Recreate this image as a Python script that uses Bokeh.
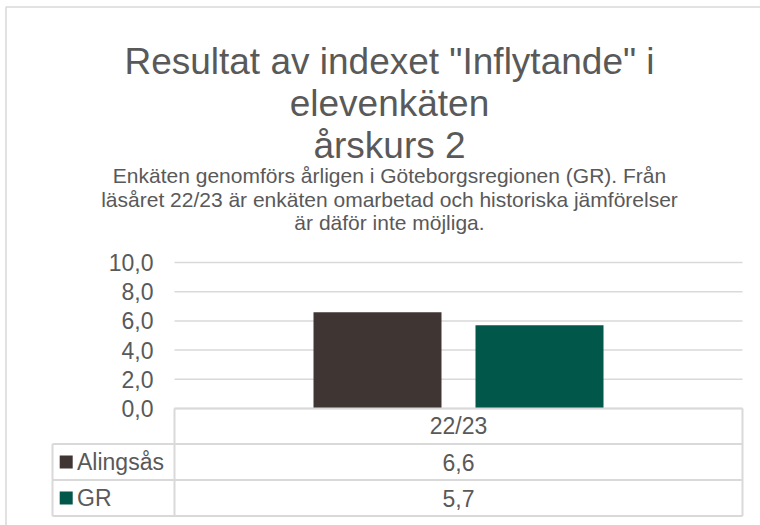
from bokeh.plotting import figure
from bokeh.models import Range1d, LinearAxis, FixedTicker, CustomJSTickFormatter
from bokeh.core.properties import value
from bokeh.embed import file_html
from bokeh.resources import INLINE

# ---------------- data ----------------
title_lines = ['Resultat av indexet "Inflytande" i', "elevenkäten", "årskurs 2"]
subtitle_lines = [
    "Enkäten genomförs årligen i Göteborgsregionen (GR). Från",
    "läsåret 22/23 är enkäten omarbetad och historiska jämförelser",
    "är däför inte möjliga.",
]
categories = ["22/23"]
series = ["Alingsås", "GR"]
alingsas = [6.6]
gr = [5.7]
y_ticks = [0, 2, 4, 6, 8, 10]
series_colors = ["#3F3633", "#02574B"]

# ---------------- style / layout ----------------
TEXT = "#595959"
LINE = "#D9D9D9"
FONT = value("Liberation Sans")

W, H = 760, 525          # canvas size
M = 0                    # page offset of the canvas
CAT_LEFT = 174           # page px where the category area starts
CAT_W = 568              # page px width of one category
ZERO_Y = 408             # page px of value 0
PPU = 14.6               # px per value unit
LEG_LEFT = 52            # left edge of table legend column
HEAD_H = 35.5
ROW_H = 36.0
BAR_W_PX = 128
BAR_GAP_PX = 34
CENTER_X = 389


def u(px):
    return (px - CAT_LEFT) / CAT_W


def v(py):
    return (ZERO_Y - py) / PPU


p = figure(width=W, height=H, output_backend="svg", toolbar_location=None,
           x_range=Range1d(u(M), u(M + W)), y_range=Range1d(v(M + H), v(M)),
           x_axis_location=None, y_axis_location=None, min_border=0,
           outline_line_color=None)
p.background_fill_color = "white"
p.border_fill_color = "white"
for g in p.grid:
    g.visible = False

# chart border (left / top)
p.line(x=[u(5.5), u(5.5), u(M + W)], y=[v(M + H), v(6.5), v(6.5)],
       line_color=LINE, line_width=1.5)

# y axis
yaxis = LinearAxis(ticker=FixedTicker(ticks=y_ticks), fixed_location=0,
                   formatter=CustomJSTickFormatter(code="return tick.toFixed(1).replace('.', ',');"))
yaxis.axis_line_color = None
yaxis.major_tick_line_color = None
yaxis.minor_tick_line_color = None
yaxis.major_tick_out = 0
yaxis.major_tick_in = 0
yaxis.major_label_standoff = 21
yaxis.major_label_text_font = "Liberation Sans"
yaxis.major_label_text_font_size = "23px"
yaxis.major_label_text_color = TEXT
p.add_layout(yaxis, "left")

# gridlines
p.segment(x0=[0] * len(y_ticks), x1=[1] * len(y_ticks), y0=y_ticks, y1=y_ticks,
          line_color=LINE, line_width=1.5)

# bars
cat_x = [i + 0.5 for i in range(len(categories))]
dodge = (BAR_W_PX + BAR_GAP_PX) / 2 / CAT_W
bw = BAR_W_PX / CAT_W
p.vbar(x=[c - dodge for c in cat_x], top=alingsas, bottom=0, width=bw,
       fill_color=series_colors[0], line_color=None)
p.vbar(x=[c + dodge for c in cat_x], top=gr, bottom=0, width=bw,
       fill_color=series_colors[1], line_color=None)

# data table
head_bot = ZERO_Y + HEAD_H
row_bots = [head_bot + ROW_H * (i + 1) for i in range(len(series))]
right = CAT_LEFT + CAT_W
hx0 = [u(CAT_LEFT)] + [u(LEG_LEFT)] * (1 + len(series))
hx1 = [u(right)] * (2 + len(series))
hy = [v(ZERO_Y), v(head_bot)] + [v(b) for b in row_bots]
p.segment(x0=hx0, x1=hx1, y0=hy, y1=hy, line_color=LINE, line_width=2)
vx = [u(CAT_LEFT), u(right), u(LEG_LEFT)]
vy0 = [v(ZERO_Y), v(ZERO_Y), v(head_bot)]
vy1 = [v(row_bots[-1])] * 3
p.segment(x0=vx, x1=vx, y0=vy0, y1=vy1, line_color=LINE, line_width=2)

# table header (category)
p.text(x=cat_x, y=[v(ZERO_Y + HEAD_H / 2)] * len(categories), text=categories,
       text_font=FONT, text_font_size="23px", text_color=TEXT,
       text_align="center", text_baseline="middle")

row_centers = [v(head_bot + ROW_H * (i + 0.5)) for i in range(len(series))]
# legend squares + series names
p.scatter(x=[u(65.7)] * len(series), y=row_centers, marker="square", size=13,
          fill_color=series_colors, line_color=None)
p.text(x=[u(76.5)] * len(series), y=row_centers, text=series,
       text_font=FONT, text_font_size="23px", text_color=TEXT,
       text_align="left", text_baseline="middle")
# values
vals = [alingsas[0], gr[0]]
p.text(x=[cat_x[0]] * len(series), y=row_centers,
       text=[f"{x:.1f}".replace(".", ",") for x in vals],
       text_font=FONT, text_font_size="23px", text_color=TEXT,
       text_align="center", text_baseline="middle")

# title & subtitle
p.text(x=[u(CENTER_X)] * 3, y=[v(61.3), v(103.3), v(145.0)], text=title_lines,
       text_font=FONT, text_font_size="37px", text_color=TEXT,
       text_align="center", text_baseline="alphabetic")
p.text(x=[u(CENTER_X)] * 3, y=[v(175.0), v(198.5), v(222.0)], text=subtitle_lines,
       text_font=FONT, text_font_size="21px", text_color=TEXT,
       text_align="center", text_baseline="alphabetic")

open("out.html", "w").write(file_html(p, INLINE))
